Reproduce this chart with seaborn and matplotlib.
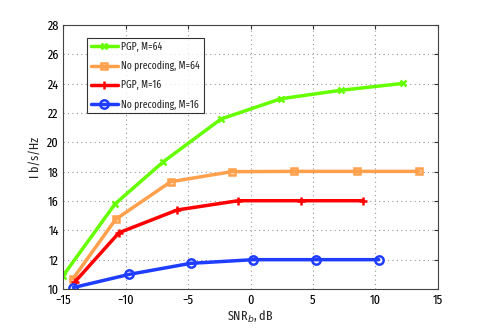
import matplotlib
matplotlib.use("Agg")
import matplotlib.pyplot as plt
import seaborn as sns
import pandas as pd

series_names = ["PGP, M=64", "No precoding, M=64", "PGP, M=16", "No precoding, M=16"]
x_pgp64 = [-15.0, -10.84, -6.97, -2.36, 2.41, 7.24, 12.22]
y_pgp64 = [10.9, 15.8, 18.68, 21.59, 22.97, 23.55, 24.02]
x_np64 = [-14.22, -10.79, -6.39, -1.51, 3.48, 8.5, 13.5]
y_np64 = [10.68, 14.75, 17.31, 18.0, 18.02, 18.02, 18.02]
x_pgp16 = [-14.04, -10.52, -5.86, -0.98, 4.01, 9.03]
y_pgp16 = [10.5, 13.84, 15.39, 16.02, 16.02, 16.02]
x_np16 = [-14.17, -9.69, -4.79, 0.23, 5.28, 10.26]
y_np16 = [10.1, 11.0, 11.75, 12.0, 12.0, 12.0]
x_ticks = [-15, -10, -5, 0, 5, 10, 15]
x_ticklabels = ["\u221215", "\u221210", "\u22125", "0", "5", "10", "15"]
y_ticks = [10, 12, 14, 16, 18, 20, 22, 24, 26, 28]

sns.set_style("white")
plt.rcParams["font.family"] = ["Fira Sans Extra Condensed", "Roboto Condensed", "DejaVu Sans"]

frames = []
for name, xs, ys in zip(series_names,
                        [x_pgp64, x_np64, x_pgp16, x_np16],
                        [y_pgp64, y_np64, y_pgp16, y_np16]):
    frames.append(pd.DataFrame({"x": xs, "y": ys, "series": name}))
df = pd.concat(frames, ignore_index=True)

colors = ["#66ff00", "#ffa04c", "#ff0000", "#1f3dff"]
markers = ["x", "s", "+", "o"]

fig = plt.figure(figsize=(4.85, 3.32), dpi=100)
ax = fig.add_axes([0.130, 0.1295, 0.773, 0.7952])

for name, c, m in zip(series_names, colors, markers):
    sub = df[df["series"] == name]
    sns.lineplot(data=sub, x="x", y="y", ax=ax, color=c, lw=2.5,
                 marker=m, markersize=5 if m in ("s", "x") else 6,
                 markeredgewidth=1.8, markeredgecolor=c,
                 markerfacecolor="none" if m in ("s", "o") else c,
                 label=name, sort=False)

ax.set_xlim(-15, 15)
ax.set_ylim(10, 28)
ax.set_xticks(x_ticks)
ax.set_yticks(y_ticks)
ax.set_xticklabels(x_ticklabels)
ax.tick_params(direction="in", length=3, top=True, right=True, labelsize=9.5,
               colors="#333333", labelcolor="black")
ax.tick_params(axis="x", pad=4)
ax.tick_params(axis="y", pad=3)
ax.grid(True, linestyle=(0, (1, 3)), color="#999999", linewidth=0.8)
for s in ax.spines.values():
    s.set_color("#444444")
    s.set_linewidth(0.8)
ax.set_xlabel("SNR$_b$, dB", fontsize=9.5, labelpad=1)
ax.set_ylabel("I b/s/Hz", fontsize=9.5, labelpad=4)

leg = ax.legend(loc="upper left", bbox_to_anchor=(0.064, 0.951), borderaxespad=0,
                fontsize=7.6, frameon=True, fancybox=False, edgecolor="black",
                handlelength=2.6, borderpad=0.35, labelspacing=0.8, handletextpad=0.3)
leg.get_frame().set_linewidth(0.8)

fig.savefig("out.png", dpi=100)
